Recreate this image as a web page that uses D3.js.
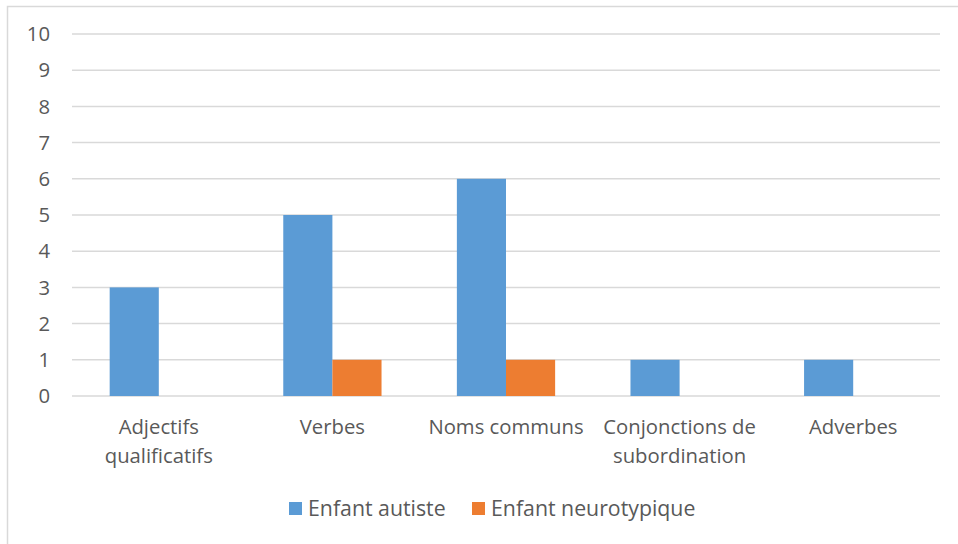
<!DOCTYPE html>
<html>
<head>
<meta charset="utf-8">
<script src="https://cdn.jsdelivr.net/npm/d3@7"></script>
<style>
    body { margin: 0; background: #fff; }
    text { font-family: "Open Sans", "Noto Sans", sans-serif; fill: #595959; }
</style>
</head>
<body>
<div id="chart"></div>
<script>
// chart data
const categories = [["Adjectifs", "qualificatifs"], ["Verbes"], ["Noms communs"], ["Conjonctions de", "subordination"], ["Adverbes"]];
const seriesNames = ["Enfant autiste", "Enfant neurotypique"];
const autiste = [3, 5, 6, 1, 1];
const neurotypique = [0, 1, 1, 0, 0];
const yTicks = [0, 1, 2, 3, 4, 5, 6, 7, 8, 9, 10];
const colors = ["#5B9BD5", "#ED7D31"];

const W = 958, H = 544;
const plotL = 72, plotR = 940, plotT = 34, plotB = 396;
const fontSize = "20.3px";

var svg = d3.select("#chart").append("svg")
    .attr("width", W)
    .attr("height", H);

// outer chart border
svg.append("rect")
    .attr("x", 7.5).attr("y", 6.5)
    .attr("width", W + 10).attr("height", H + 10)
    .attr("fill", "none")
    .attr("stroke", "#D9D9D9")
    .attr("stroke-width", 1.5);

var x = d3.scaleBand()
    .domain(d3.range(categories.length))
    .range([plotL, plotR]);

var y = d3.scaleLinear()
    .domain([0, 10])
    .range([plotB, plotT]);

// grid
svg.append("g")
    .selectAll("line")
    .data(yTicks)
    .enter().append("line")
    .attr("x1", plotL).attr("x2", plotR)
    .attr("y1", d => y(d)).attr("y2", d => y(d))
    .attr("stroke", "#D9D9D9")
    .attr("stroke-width", 1.5);

// y tick labels
svg.append("g")
    .selectAll("text")
    .data(yTicks)
    .enter().append("text")
    .attr("x", 50)
    .attr("y", d => y(d))
    .attr("dy", "0.35em")
    .attr("text-anchor", "end")
    .style("font-size", fontSize)
    .text(d => d);

// bars
var barW = x.bandwidth() * 0.283;
var series = [autiste, neurotypique];
series.forEach((vals, s) => {
    svg.append("g")
        .selectAll("rect")
        .data(vals)
        .enter().append("rect")
        .attr("x", (d, i) => x(i) + x.bandwidth() / 2 - barW + s * barW)
        .attr("y", d => y(d))
        .attr("width", barW)
        .attr("height", d => y(0) - y(d))
        .attr("fill", colors[s]);
});

// category labels
var cat = svg.append("g")
    .selectAll("text")
    .data(categories)
    .enter().append("text")
    .attr("x", (d, i) => x(i) + x.bandwidth() / 2)
    .attr("y", 434)
    .attr("text-anchor", "middle")
    .style("font-size", fontSize);
cat.selectAll("tspan")
    .data(d => d)
    .enter().append("tspan")
    .attr("x", function () { return d3.select(this.parentNode).attr("x"); })
    .attr("dy", (d, i) => i === 0 ? 0 : 29)
    .text(d => d);

// legend
var legX = [289, 472];
seriesNames.forEach((n, i) => {
    svg.append("rect")
        .attr("x", legX[i]).attr("y", 502)
        .attr("width", 13).attr("height", 13)
        .attr("fill", colors[i]);
    svg.append("text")
        .attr("x", legX[i] + 19).attr("y", 509)
        .attr("dy", "0.35em")
        .style("font-size", "21.3px")
        .text(n);
});
</script>
</body>
</html>
